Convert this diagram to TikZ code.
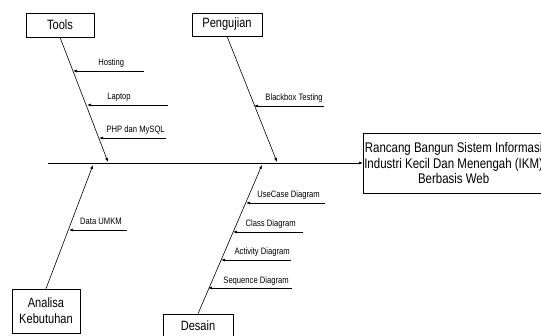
\documentclass[tikz,border=0pt]{standalone}
\usepackage{fontspec}
\setmainfont{Liberation Sans}
\newfontfamily\narrowfont[FakeStretch=0.82]{Liberation Sans}
\usetikzlibrary{arrows.meta, positioning}

\begin{document}
\begin{tikzpicture} [x = 1pt, y = -1pt, line width = 0.6pt,
	box/.style = {draw, rectangle, inner sep = 1pt, font = \narrowfont\fontsize{13.5}{16}\selectfont, align = center},
	lbl/.style = {font = \narrowfont\fontsize{9.3}{11}\selectfont, inner sep = 0pt},
	tip/.style = {-{Latex[length = 4pt, width = 3pt]}}]
		% Frame: same size as the reference
		\useasboundingbox (0,0) rectangle (541,336);

		% Category boxes
		\node (tools) [box, minimum width = 68pt, minimum height = 24pt] at (60,25) {Tools};
		\node (uji) [box, minimum width = 70pt, minimum height = 23pt] at (227,24.5) {Pengujian};
		\node (analisa) [box, minimum width = 68pt, minimum height = 44pt] at (46,311) {Analisa\\Kebutuhan};
		\node (desain) [box, minimum width = 70pt, minimum height = 24pt] at (198,326) {Desain};

		% Effect box
		\node (hasil) [box, anchor = west, minimum height = 60pt, font = \narrowfont\fontsize{14}{15.5}\selectfont]
		at (363,163) {Rancang Bangun Sistem Informasi\\Industri Kecil Dan Menengah (IKM)\\Berbasis Web};

		% Spine
		\coordinate (ekor) at (48,163);
		\draw [tip] (ekor) -- (hasil.west);

		% Bones
		\coordinate (tools-end) at (108,162);
		\coordinate (uji-end) at (277,162);
		\coordinate (analisa-end) at (93,165);
		\coordinate (desain-end) at (262,165);
		\draw [tip] (tools.south) -- (tools-end);
		\draw [tip] (uji.south) -- (uji-end);
		\draw [tip] (analisa.north) -- (analisa-end);
		\draw [tip] (desain.north) -- (desain-end);

		% Ribs: start, end on bone
		\coordinate (hosting-a) at (144,71);  \coordinate (hosting-b) at (73,71);
		\coordinate (laptop-a) at (168,105);  \coordinate (laptop-b) at (87,105);
		\coordinate (php-a) at (166,138);     \coordinate (php-b) at (99,138);
		\coordinate (bb-a) at (324,106);      \coordinate (bb-b) at (254,106);
		\coordinate (umkm-a) at (127,230);    \coordinate (umkm-b) at (69,230);
		\coordinate (uc-a) at (325,203);      \coordinate (uc-b) at (246,203);
		\coordinate (cd-a) at (303,232);      \coordinate (cd-b) at (233,232);
		\coordinate (ad-a) at (291,260);      \coordinate (ad-b) at (221,260);
		\coordinate (sd-a) at (292,288);      \coordinate (sd-b) at (208,288);

		\draw [tip] (hosting-a) -- (hosting-b);
		\draw [tip] (laptop-a) -- (laptop-b);
		\draw [tip] (php-a) -- (php-b);
		\draw [tip] (bb-a) -- (bb-b);
		\draw [tip] (umkm-a) -- (umkm-b);
		\draw [tip] (uc-a) -- (uc-b);
		\draw [tip] (cd-a) -- (cd-b);
		\draw [tip] (ad-a) -- (ad-b);
		\draw [tip] (sd-a) -- (sd-b);

		% Rib labels
		\node (hosting) [lbl, anchor = base west] at (98,66) {Hosting};
		\node (laptop) [lbl, anchor = base west] at (107,100) {Laptop};
		\node (php) [lbl, anchor = base east] at (165,133) {PHP dan MySQL};
		\node (bb) [lbl, anchor = base east] at (323,101) {Blackbox Testing};
		\node (umkm) [lbl, anchor = base east] at (122,225) {Data UMKM};
		\node (uc) [lbl, anchor = base east] at (320,198) {UseCase Diagram};
		\node (cd) [lbl, anchor = base east] at (296,227) {Class Diagram};
		\node (ad) [lbl, anchor = base east] at (290,255) {Activity Diagram};
		\node (sd) [lbl, anchor = base east] at (289,284) {Sequence Diagram};
	\end{tikzpicture}
\end{document}
